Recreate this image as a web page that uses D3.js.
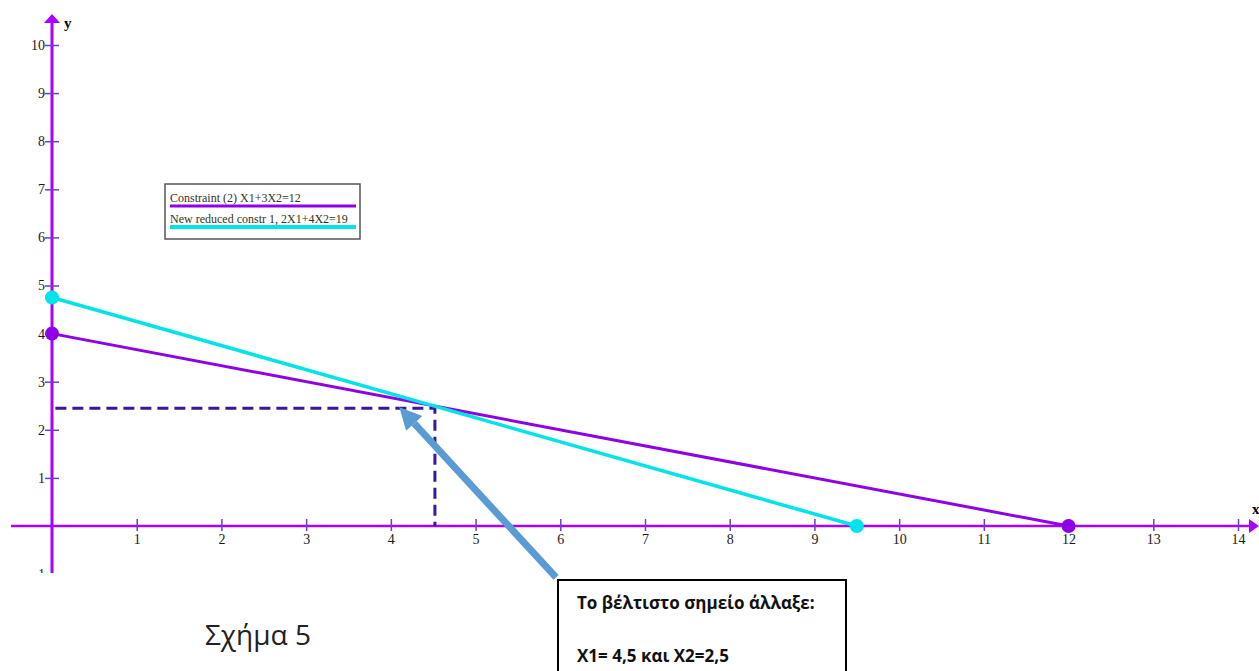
<!DOCTYPE html>
<html>
<head>
<meta charset="utf-8">
<script src="https://cdn.jsdelivr.net/npm/d3@7"></script>
<style>
  body { margin: 0; background: #fff; }
  svg { display: block; }
  .tick text { font-family: "Liberation Serif", serif; font-size: 14px; fill: #1a1a1a; }
</style>
</head>
<body>
<div id="chart"></div>
<script>
var width = 1259;
var height = 671;

// data
var xTicks = [1, 2, 3, 4, 5, 6, 7, 8, 9, 10, 11, 12, 13, 14];
var yTicks = [-1, 1, 2, 3, 4, 5, 6, 7, 8, 9, 10];
var constraint2 = [[0, 4], [12, 0]];
var reduced1 = [[0, 4.75], [9.5, 0]];
var optimum = [4.52, 2.45];
var legendLabels = ["Constraint (2) X1+3X2=12", "New reduced constr 1, 2X1+4X2=19"];
var noteLines = ["Το βέλτιστο σημείο άλλαξε:", "X1= 4,5 και X2=2,5"];
var caption = "Σχήμα 5";

var axisColor = "#aa00ff";
var tickColor = "#6a3fd0";
var purple = "#9000e6";
var cyan = "#00e3ea";

var x = d3.scaleLinear().domain([0, 14]).range([52, 1238]);
var y = d3.scaleLinear().domain([0, 10]).range([526, 45]);

var svg = d3.select("#chart")
	.append("svg")
	.attr("width", width)
	.attr("height", height);

var defs = svg.append("defs");
defs.append("clipPath")
	.attr("id", "plotclip")
	.append("rect")
	.attr("x", 0).attr("y", 0)
	.attr("width", width).attr("height", 573);

var plot = svg.append("g").attr("clip-path", "url(#plotclip)");

// axes lines with arrows
plot.append("line")
	.attr("x1", 11).attr("x2", 1252)
	.attr("y1", y(0)).attr("y2", y(0))
	.attr("stroke", axisColor).attr("stroke-width", 2.5);
plot.append("path")
	.attr("d", "M1259," + y(0) + "L1249," + (y(0) - 7) + "L1249," + (y(0) + 7) + "Z")
	.attr("fill", axisColor);

plot.append("line")
	.attr("x1", x(0)).attr("x2", x(0))
	.attr("y1", 22).attr("y2", 575)
	.attr("stroke", axisColor).attr("stroke-width", 3);
plot.append("path")
	.attr("d", "M" + x(0) + ",14L" + (x(0) - 8) + ",23L" + (x(0) + 8) + ",23Z")
	.attr("fill", axisColor);

// x axis ticks
var xAxis = d3.axisBottom(x).tickValues(xTicks).tickSize(0).tickPadding(0);
var gx = plot.append("g")
	.attr("transform", "translate(0," + y(0) + ")")
	.call(xAxis);
gx.select(".domain").remove();
gx.selectAll(".tick line")
	.attr("y1", -7).attr("y2", 5)
	.attr("stroke", tickColor).attr("stroke-width", 1.5);
gx.selectAll(".tick text")
	.attr("y", 18).attr("dy", 0);

// y axis ticks
var yAxis = d3.axisLeft(y).tickValues(yTicks).tickSize(0).tickPadding(0);
var gy = plot.append("g")
	.attr("transform", "translate(" + x(0) + ",0)")
	.call(yAxis);
gy.select(".domain").remove();
gy.selectAll(".tick line")
	.attr("x1", -7).attr("x2", 7)
	.attr("stroke", tickColor).attr("stroke-width", 1.5);
gy.selectAll(".tick text")
	.attr("x", -7);

// axis names
svg.append("text")
	.attr("x", 64).attr("y", 28)
	.attr("font-family", "Liberation Serif, serif")
	.attr("font-weight", "bold")
	.attr("font-size", 15)
	.text("y");
svg.append("text")
	.attr("x", 1252).attr("y", 514)
	.attr("font-family", "Liberation Serif, serif")
	.attr("font-weight", "bold")
	.attr("font-size", 15)
	.text("x");

var line = d3.line()
	.x(function(d) { return x(d[0]); })
	.y(function(d) { return y(d[1]); });

// dashed guide to the optimum
svg.append("path")
	.attr("d", line([[0.04, optimum[1]], optimum, [optimum[0], 0]]))
	.attr("fill", "none")
	.attr("stroke", "#3a1896")
	.attr("stroke-width", 3)
	.attr("stroke-dasharray", "11,6");

// constraint lines
svg.append("path")
	.attr("d", line(constraint2))
	.attr("fill", "none")
	.attr("stroke", purple)
	.attr("stroke-width", 3);

svg.append("path")
	.attr("d", line(reduced1))
	.attr("fill", "none")
	.attr("stroke", cyan)
	.attr("stroke-width", 3.5);

svg.selectAll(".p-purple")
	.data(constraint2)
	.enter()
	.append("circle")
	.attr("class", "p-purple")
	.attr("cx", function(d) { return x(d[0]); })
	.attr("cy", function(d) { return y(d[1]); })
	.attr("r", 7)
	.attr("fill", purple);

svg.selectAll(".p-cyan")
	.data(reduced1)
	.enter()
	.append("circle")
	.attr("class", "p-cyan")
	.attr("cx", function(d) { return x(d[0]); })
	.attr("cy", function(d) { return y(d[1]); })
	.attr("r", 7)
	.attr("fill", cyan);

// legend
var legend = svg.append("g");
legend.append("rect")
	.attr("x", 165).attr("y", 184)
	.attr("width", 195).attr("height", 55)
	.attr("fill", "#fff")
	.attr("stroke", "#555")
	.attr("stroke-width", 1.5);
var legendColors = [purple, cyan];
legendLabels.forEach(function(t, i) {
	legend.append("text")
		.attr("x", 170).attr("y", 202 + i * 21)
		.attr("font-family", "Liberation Serif, serif")
		.attr("font-size", 12)
		.attr("fill", "#332")
		.text(t);
	legend.append("line")
		.attr("x1", 170).attr("x2", 356)
		.attr("y1", 206 + i * 21).attr("y2", 206 + i * 21)
		.attr("stroke", legendColors[i])
		.attr("stroke-width", 3 + i);
});

// note box and arrow
svg.append("rect")
	.attr("x", 558).attr("y", 580)
	.attr("width", 288).attr("height", 100)
	.attr("fill", "#fff")
	.attr("stroke", "#000")
	.attr("stroke-width", 2);
noteLines.forEach(function(t, i) {
	svg.append("text")
		.attr("x", 577).attr("y", 609 + i * 53)
		.attr("font-family", "Open Sans, sans-serif")
		.attr("font-weight", "bold")
		.attr("font-size", 17)
		.attr("fill", "#111")
		.text(t);
});

var tail = [x(5.95), y(-1.07)];
var tip = [x(4.1), y(2.47)];
var ang = Math.atan2(tip[1] - tail[1], tip[0] - tail[0]);
var headLen = 22, headW = 11;
var base = [tip[0] - headLen * Math.cos(ang), tip[1] - headLen * Math.sin(ang)];
svg.append("line")
	.attr("x1", tail[0]).attr("y1", tail[1])
	.attr("x2", base[0]).attr("y2", base[1])
	.attr("stroke", "#5b9bd5")
	.attr("stroke-width", 7);
svg.append("path")
	.attr("d", "M" + tip[0] + "," + tip[1] +
		"L" + (base[0] + headW * Math.sin(ang)) + "," + (base[1] - headW * Math.cos(ang)) +
		"L" + (base[0] - headW * Math.sin(ang)) + "," + (base[1] + headW * Math.cos(ang)) + "Z")
	.attr("fill", "#5b9bd5");

svg.append("text")
	.attr("x", 205).attr("y", 645)
	.attr("font-family", "Open Sans, sans-serif")
	.attr("font-size", 28)
	.attr("fill", "#222")
	.text(caption);
</script>
</body>
</html>
